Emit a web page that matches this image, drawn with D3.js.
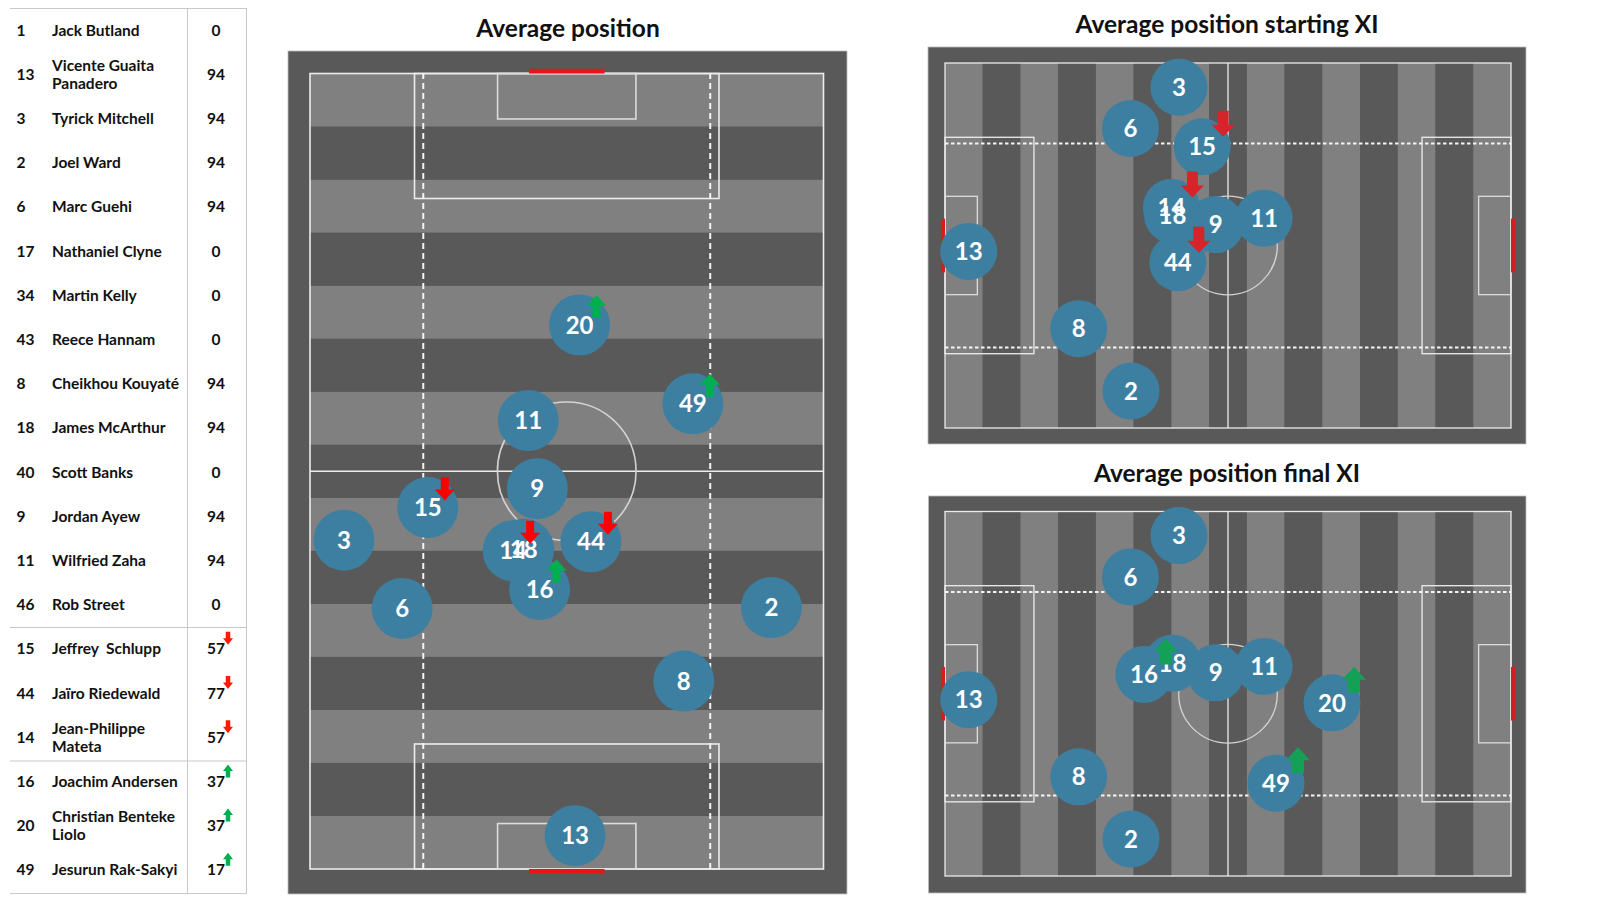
<!DOCTYPE html>
<html><head><meta charset="utf-8">
<script src="https://cdn.jsdelivr.net/npm/d3@7"></script>
<style>
body{margin:0;background:#fff;}
svg{display:block;font-family:Lato,'Open Sans',sans-serif;}
</style>
</head><body>
<svg id="chart" width="1600" height="900"></svg>
<script>
// ---------- DATA ----------
const shirtNumbers = [1,13,3,2,6,17,34,43,8,18,40,9,11,46,15,44,14,16,20,49];
const playerNames = [
  ["Jack Butland"],["Vicente Guaita","Panadero"],["Tyrick Mitchell"],["Joel Ward"],["Marc Guehi"],
  ["Nathaniel Clyne"],["Martin Kelly"],["Reece Hannam"],["Cheikhou Kouyaté"],["James McArthur"],
  ["Scott Banks"],["Jordan Ayew"],["Wilfried Zaha"],["Rob Street"],["Jeffrey  Schlupp"],
  ["Jaïro Riedewald"],["Jean-Philippe","Mateta"],["Joachim Andersen"],["Christian Benteke","Liolo"],["Jesurun Rak-Sakyi"]
];
const minutesPlayed = [0,94,94,94,94,0,0,0,94,94,0,94,94,0,57,77,57,37,37,17];
const subStatus = ["","","","","","","","","","","","","","","off","off","off","on","on","on"];

// average positions: across = metres from the left touchline (attacking direction), along = metres from own goal line
const positionNumbers = [13,3,2,6,8,18,9,11,15,44,14,16,20,49];
const avgAcross = [35.1,4.5,61.1,12.2,49.5,28.3,30.1,28.9,15.6,37.2,26.9,30.4,35.7,50.7];
const avgAlong  = [4.4,43.4,34.5,34.4,24.8,42.2,50.2,59.2,47.7,43.2,42.0,36.9,71.8,61.4];

const startingXI = [13,3,2,6,8,18,9,11,15,44,14];
const finalXI    = [13,3,2,6,8,18,9,11,16,20,49];
const allPlayers = [13,3,2,6,8,15,44,14,18,9,11,16,20,49];

const panelTitles = ["Average position","Average position starting XI","Average position final XI"];

// ---------- HELPERS ----------
const svg = d3.select("#chart");
const FONT = "Lato,'Open Sans',sans-serif";
const statusOf = n => subStatus[shirtNumbers.indexOf(n)];
const posOf = n => { const i = positionNumbers.indexOf(n); return {n, across: avgAcross[i], along: avgAlong[i]}; };

function arrowPath(cx, ty, by, W, S, H, dir){
  if(dir === "down"){
    return `M${cx-S/2},${ty}L${cx+S/2},${ty}L${cx+S/2},${by-H}L${cx+W/2},${by-H}L${cx},${by}L${cx-W/2},${by-H}L${cx-S/2},${by-H}Z`;
  }
  return `M${cx},${ty}L${cx+W/2},${ty+H}L${cx+S/2},${ty+H}L${cx+S/2},${by}L${cx-S/2},${by}L${cx-S/2},${ty+H}L${cx-W/2},${ty+H}Z`;
}

// ---------- TABLE ----------
const table = svg.append("g");
const rowY = d3.scaleLinear().domain([0,1]).range([30, 74.2]);
const lineCol = "#c9c9c9";
table.append("line").attr("x1",10).attr("x2",247).attr("y1",8.5).attr("y2",8.5).attr("stroke",lineCol);
table.append("line").attr("x1",10).attr("x2",247).attr("y1",893.5).attr("y2",893.5).attr("stroke",lineCol);
[627.5,761].forEach(y=>table.append("line").attr("x1",10).attr("x2",247).attr("y1",y).attr("y2",y).attr("stroke",lineCol));
[187.5,246.5].forEach(x=>table.append("line").attr("x1",x).attr("x2",x).attr("y1",8.5).attr("y2",893.5).attr("stroke",lineCol));

shirtNumbers.forEach((num,i)=>{
  const y = rowY(i);
  const t = {"font-family":FONT,"font-weight":700,"font-size":"15.5px","fill":"#111"};
  const num_t = table.append("text").attr("x",16.5).attr("y",y).attr("dy","0.36em").text(num);
  const names = playerNames[i];
  const off = names.length === 2 ? [-8.8, 8.8] : [0];
  names.forEach((nm,k)=>{
    const tt = table.append("text").attr("x",52).attr("y",y+off[k]).attr("dy","0.36em").text(nm).style("white-space","pre");
    Object.entries(t).forEach(([a,v])=>tt.attr(a,v));
  });
  const val = table.append("text").attr("x",216).attr("y",y).attr("dy","0.36em").attr("text-anchor","middle").text(minutesPlayed[i]);
  [num_t,val].forEach(s=>Object.entries(t).forEach(([a,v])=>s.attr(a,v)));
  const st = subStatus[i];
  if(st){
    table.append("path")
      .attr("d", arrowPath(228, y-17, y-4, 10, 4.5, 6.5, st==="off"?"down":"up"))
      .attr("fill", st==="off" ? "#ff1a00" : "#00b050");
  }
});

// ---------- PITCHES ----------
function drawPitch(cfg){
  const g = svg.append("g");
  const vertical = cfg.orient === "v";
  let sAcross, sAlong;
  if(vertical){
    sAcross = d3.scaleLinear().domain([0,68]).range([cfg.x0,cfg.x1]);
    sAlong  = d3.scaleLinear().domain([0,105]).range([cfg.y1,cfg.y0]);
  } else {
    sAlong  = d3.scaleLinear().domain([0,105]).range([cfg.x0,cfg.x1]);
    sAcross = d3.scaleLinear().domain([0,68]).range([cfg.y0,cfg.y1]);
  }
  const P = (a,l) => vertical ? [sAcross(a), sAlong(l)] : [sAlong(l), sAcross(a)];
  const rectOf = (a0,a1,l0,l1) => {
    const p0 = P(a0,l0), p1 = P(a1,l1);
    return {x:Math.min(p0[0],p1[0]), y:Math.min(p0[1],p1[1]), w:Math.abs(p1[0]-p0[0]), h:Math.abs(p1[1]-p0[1])};
  };
  const addRect = (r, attrs) => {
    const s = g.append("rect").attr("x",r.x).attr("y",r.y).attr("width",r.w).attr("height",r.h);
    Object.entries(attrs).forEach(([a,v])=>s.attr(a,v));
    return s;
  };
  const addLine = (p0,p1,attrs) => {
    const s = g.append("line").attr("x1",p0[0]).attr("y1",p0[1]).attr("x2",p1[0]).attr("y2",p1[1]);
    Object.entries(attrs).forEach(([a,v])=>s.attr(a,v));
    return s;
  };

  // title
  g.append("text").attr("x",cfg.titleX).attr("y",cfg.titleY).attr("text-anchor","middle").attr("dy","0.36em")
    .attr("font-family",FONT).attr("font-weight",700).attr("font-size","24.5px").attr("fill","#111").text(cfg.title);

  // outer surround
  g.append("rect").attr("x",cfg.ox0).attr("y",cfg.oy0).attr("width",cfg.ox1-cfg.ox0).attr("height",cfg.oy1-cfg.oy0)
    .attr("fill","#595959").attr("stroke","#bdbdbd").attr("stroke-width",0.8);

  // stripes
  d3.range(15).forEach(i=>{
    addRect(rectOf(0,68,i*7,(i+1)*7), {fill: i%2 ? "#595959" : "#808080"});
  });

  const lc = "#ececec", lw = cfg.lw;
  addRect(rectOf(0,68,0,105), {fill:"none", stroke:lc, "stroke-width":lw});
  addLine(P(0,52.5),P(68,52.5), {stroke:lc, "stroke-width":lw});
  const c = P(34,52.5);
  const pxm = Math.abs(sAlong(1)-sAlong(0));
  g.append("circle").attr("cx",c[0]).attr("cy",c[1]).attr("r",9.15*pxm).attr("fill","none").attr("stroke","#d4d4d4").attr("stroke-width",lw);
  [[0,16.5],[88.5,105]].forEach(([l0,l1])=>addRect(rectOf(13.84,54.16,l0,l1), {fill:"none", stroke:lc, "stroke-width":lw}));
  [[0,6],[99,105]].forEach(([l0,l1])=>addRect(rectOf(24.84,43.16,l0,l1), {fill:"none", stroke:"#dcdcdc", "stroke-width":lw}));
  [15,53].forEach(a=>addLine(P(a,0),P(a,105), {stroke:"#f4f4f4", "stroke-width":2, "stroke-dasharray":cfg.dash}));
  [[-cfg.goalDepth,0],[105,105+cfg.goalDepth]].forEach(([l0,l1])=>addRect(rectOf(29,39,l0,l1), {fill:cfg.goalCol}));

  // players
  const players = cfg.players.map(posOf);
  const pg = g.append("g");
  players.forEach(d=>{
    const [x,y] = P(d.across,d.along);
    pg.append("circle").attr("cx",x).attr("cy",y).attr("r",cfg.r).attr("fill","#3d7fa1");
  });
  players.forEach(d=>{
    const [x,y] = P(d.across,d.along);
    pg.append("text").attr("x",x).attr("y",y).attr("dy","0.36em").attr("text-anchor","middle")
      .attr("font-family",FONT).attr("font-weight",700).attr("font-size","24px").attr("fill","#fff").text(d.n);
  });
  players.forEach(d=>{
    const st = statusOf(d.n);
    if(!st) return;
    const [x,y] = P(d.across,d.along);
    const a = cfg.arrow;
    pg.append("path").attr("d", arrowPath(x+a.dx, y+a.top, y+a.bot, a.W, a.S, a.H, st==="off"?"down":"up"))
      .attr("fill", st==="off" ? cfg.redCol : cfg.greenCol);
  });
}

drawPitch({orient:"v", title:panelTitles[0], titleX:568, titleY:28.5,
  ox0:288, oy0:51, ox1:847, oy1:894, x0:310, x1:823.5, y0:73.5, y1:869,
  r:30.5, lw:1.6, dash:"6,4", goalDepth:0.62, goalCol:"#e8141c",
  redCol:"#ff0000", greenCol:"#00b050",
  arrow:{dx:17, top:-30, bot:-7, W:20, S:8, H:11},
  players:allPlayers});

drawPitch({orient:"h", title:panelTitles[1], titleX:1227, titleY:24.5,
  ox0:928, oy0:47, ox1:1526, oy1:444, x0:945, x1:1511, y0:63, y1:428,
  r:28.5, lw:1.3, dash:"3.5,2.5", goalDepth:0.75, goalCol:"#d41e1e",
  redCol:"#d8232a", greenCol:"#15a058",
  arrow:{dx:21, top:-36, bot:-10, W:23, S:11, H:12},
  players:startingXI});

drawPitch({orient:"h", title:panelTitles[2], titleX:1227, titleY:473.5,
  ox0:928.5, oy0:496, ox1:1526, oy1:893, x0:945, x1:1511, y0:511.5, y1:876,
  r:28.5, lw:1.3, dash:"3.5,2.5", goalDepth:0.75, goalCol:"#d41e1e",
  redCol:"#d8232a", greenCol:"#15a058",
  arrow:{dx:22, top:-36, bot:-10, W:24, S:12, H:13},
  players:finalXI});
</script>
</body></html>
